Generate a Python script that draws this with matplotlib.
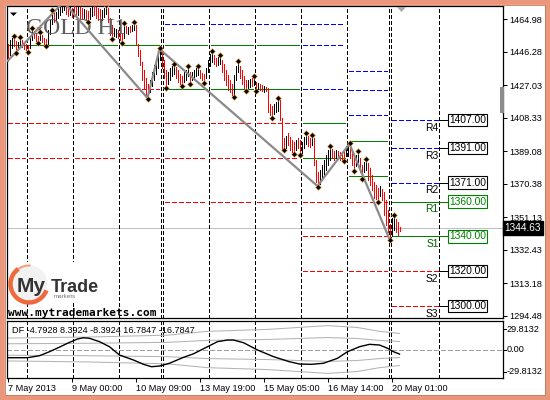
import matplotlib
matplotlib.use("Agg")
import matplotlib.pyplot as plt
from matplotlib.patches import Rectangle, Circle, Arc, Polygon
from matplotlib.transforms import blended_transform_factory as btf, offset_copy

plt.rcParams['lines.scale_dashes'] = False
plt.rcParams['font.family'] = ['Liberation Sans', 'DejaVu Sans']
plt.rcParams['axes.linewidth'] = 0.9

# ---------------- data ----------------
highs = [1450.7,1453.0,1454.2,1454.7,1452.4,1451.9,1454.2,1453.0,1451.9,1450.7,
         1450.1,1454.2,1459.3,1458.2,1457.0,1455.3,1457.0,1455.9,1454.2,1453.6,
         1458.8,1464.5,1469.7,1468.5,1469.1,1471.4,1472.6,1473.7,1474.9,1473.2,
         1472.0,1472.6,1471.4,1472.6,1472.0,1472.6,1472.0,1471.4,1470.9,1470.3,
         1469.7,1471.4,1472.0,1472.6,1472.0,1471.4,1470.9,1470.3,1471.4,1472.6,
         1471.4,1465.7,1461.6,1459.9,1459.3,1458.8,1457.0,1456.5,1462.2,1461.1,
         1460.5,1461.1,1461.6,1462.8,1461.6,1450.7,1447.3,1440.4,1435.8,1431.2,
         1427.7,1430.0,1434.6,1438.6,1441.5,1444.4,1447.8,1447.3,1441.5,1435.8,
         1434.6,1436.9,1438.1,1438.6,1437.5,1435.8,1433.5,1432.3,1434.6,1435.8,
         1437.5,1434.6,1434.6,1435.8,1436.9,1437.5,1435.8,1434.0,1433.5,1436.9,
         1441.5,1445.0,1446.1,1444.4,1442.7,1443.2,1443.8,1441.5,1439.2,1435.8,
         1432.9,1430.0,1427.7,1432.9,1438.1,1440.4,1438.1,1435.8,1432.3,1430.0,
         1430.0,1430.6,1431.2,1431.7,1428.9,1428.3,1427.7,1427.1,1426.6,1426.0,
         1425.4,1416.2,1415.0,1416.2,1417.3,1419.1,1418.5,1408.1,1396.6,1397.8,
         1399.5,1397.2,1395.5,1394.3,1395.5,1396.6,1395.5,1394.3,1397.2,1398.9,
         1397.8,1396.6,1397.8,1396.6,1384.0,1377.1,1378.2,1381.1,1384.0,1386.8,
         1389.7,1391.4,1390.3,1389.1,1389.7,1389.1,1388.6,1388.0,1388.6,1392.0,
         1392.6,1393.2,1389.7,1385.1,1386.8,1388.6,1385.1,1381.1,1382.8,1384.0,
         1382.2,1379.4,1375.3,1371.3,1369.6,1367.9,1369.0,1367.3,1365.6,1361.0,
         1355.2,1347.1,1350.6,1351.7,1350.0,1348.3,1345.4]
lows = [1440.9,1444.4,1448.4,1449.6,1446.1,1447.8,1449.6,1449.0,1447.8,1447.3,
        1446.7,1448.4,1453.0,1454.2,1452.4,1451.9,1453.0,1451.9,1450.7,1450.1,
        1450.7,1456.5,1462.2,1463.4,1464.5,1465.7,1467.4,1469.1,1470.3,1468.0,
        1466.8,1467.4,1466.3,1466.8,1466.3,1467.4,1465.7,1465.1,1465.7,1464.5,
        1464.0,1465.1,1466.8,1467.4,1465.7,1464.5,1463.4,1464.5,1466.3,1468.0,
        1463.4,1455.9,1454.2,1455.3,1454.7,1454.2,1453.0,1451.9,1454.2,1457.0,
        1456.5,1457.6,1458.2,1458.8,1450.1,1443.8,1438.6,1430.0,1425.4,1421.4,
        1419.6,1423.1,1426.6,1430.0,1433.5,1436.9,1441.5,1436.9,1431.2,1426.0,
        1427.7,1430.0,1432.3,1433.5,1431.2,1428.9,1427.7,1427.1,1428.9,1430.0,
        1432.3,1428.3,1430.0,1431.2,1432.3,1432.9,1431.2,1430.0,1428.9,1431.2,
        1434.6,1438.1,1440.4,1439.2,1438.1,1438.6,1439.2,1434.6,1430.0,1427.1,
        1424.2,1423.1,1421.4,1420.8,1430.0,1434.6,1431.2,1427.7,1425.4,1424.2,
        1425.4,1426.0,1426.6,1427.1,1424.2,1424.8,1424.2,1423.7,1423.1,1423.7,
        1411.6,1409.9,1408.7,1410.4,1411.6,1412.2,1407.0,1389.7,1390.3,1390.9,
        1392.6,1389.7,1388.6,1388.0,1389.7,1390.9,1387.4,1387.4,1390.9,1393.2,
        1392.0,1391.4,1392.6,1381.1,1371.3,1369.0,1370.2,1372.5,1375.3,1378.2,
        1381.1,1384.0,1385.1,1384.0,1385.1,1384.5,1384.0,1383.4,1384.0,1386.3,
        1386.3,1385.1,1381.1,1378.2,1380.5,1382.8,1377.1,1373.6,1377.1,1378.2,
        1372.5,1369.6,1366.7,1362.1,1361.5,1360.4,1363.3,1361.0,1352.3,1346.6,
        1342.5,1338.5,1340.2,1343.7,1342.5,1340.8,1343.1]
directions = list("rkkrrkkrrr" "rkkrrrkrrr" "kkkrkkkkkr" "rkrrrkrrkr" "rkkrrrrkkk"
                  "rrrkkrrrkr" "krkkrrrrrr" "rkkkkkkrrr" "kkkkrrrrkk" "krkkkkrrrk"
                  "kkkrrkkrrr" "rrrkkkrrrr" "kkrkrkrrkr" "rrrkkkrrrk" "rrrrkrrkkk"
                  "rrkrrrkkkk" "kkrrkrrrrk" "krrrkkrrkk" "rrrrrrkrrr" "rrkkrrr")

fractal_high_bars = [3, 6, 12, 16, 22, 49, 58, 63, 76, 83, 90, 95, 102, 106, 115,
                     123, 135, 149, 152, 161, 171, 175, 179, 193]
fractal_low_bars = [4, 10, 15, 19, 40, 52, 57, 70, 79, 87, 91, 98, 113, 119, 124,
                    132, 138, 143, 146, 155, 168, 173, 177, 185, 191]
zigzag_bars = [0, 28, 70, 76, 155, 171, 191]
zigzag_kind = ['L', 'H', 'L', 'H', 'L', 'H', 'L']

price_ticks = [1464.98, 1446.28, 1427.03, 1408.33, 1389.08, 1370.38, 1351.13,
               1332.43, 1313.18, 1294.48]
last_price = 1344.63

day_separators = [9.5, 32.5, 55.5, 76.5, 77.5, 100.5, 123.5, 146.5, 169.5,
                  190.5, 191.5, 215.5]
time_tick_bars = [0, 32, 64, 96, 128, 160, 192]
time_tick_labels = ['7 May 2013', '9 May 00:00', '10 May 09:00', '13 May 19:00',
                    '15 May 05:00', '16 May 14:00', '20 May 01:00']

# historical pivot levels: price, kind, from-separator, to-separator
hist_prices = [1450, 1425, 1405, 1385,
               1462, 1450, 1425, 1405, 1385, 1360,
               1450, 1425, 1405, 1385, 1340, 1320,
               1435, 1424, 1410, 1395, 1375]
hist_kinds = ['g', 'r', 'r', 'r',
              'b', 'g', 'g', 'r', 'r', 'r',
              'b', 'b', 'g', 'g', 'r', 'r',
              'b', 'b', 'b', 'g', 'g']
hist_from = [-0.5, -0.5, -0.5, -0.5,
             76.5, 76.5, 76.5, 76.5, 76.5, 76.5,
             146.5, 146.5, 146.5, 146.5, 146.5, 146.5,
             169.5, 169.5, 169.5, 169.5, 169.5]
hist_to = [76.5, 76.5, 76.5, 76.5,
           169.5, 146.5, 146.5, 146.5, 146.5, 190.5,
           169.5, 169.5, 169.5, 169.5, 190.5, 190.5,
           190.5, 190.5, 190.5, 190.5, 190.5]

cur_names = ['R4', 'R3', 'R2', 'R1', 'S1', 'S2', 'S3']
cur_prices = [1407.00, 1391.00, 1371.00, 1360.00, 1340.00, 1320.00, 1300.00]
cur_kinds = ['b', 'b', 'b', 'g', 'g', 'r', 'r']

df_bars = [0, 10, 16, 21, 26, 30, 35, 38, 41, 46, 51, 56, 63, 68, 72, 76, 81, 88,
           93, 100, 105, 110, 113, 118, 125, 133, 141, 146, 152, 158, 165, 170,
           176, 181, 186, 190, 193, 196]
df_values = [-8.6, -8.6, -6.5, -2.3, 2.5, 6.5, 11.0, 12.3, 11.7, 8.2, 2.9, -5.8,
             -11.0, -15.5, -18.0, -17.3, -14.4, -8.2, -4.5, 2.9, 8.2, 9.9, 9.9,
             7.1, -0.5, -7.5, -12.8, -15.2, -15.5, -14.4, -9.2, -2.3, 2.9, 5.4,
             4.7, 1.3, -2.3, -4.7928]
band_bars = [0, 40, 80, 100, 130, 160, 175, 186, 196]
band_outer = [12.0, 13.0, 15.0, 19.0, 21.0, 25.0, 23.0, 19.0, 16.7847]
band_inner = [6.0, 6.5, 7.5, 9.5, 10.5, 12.5, 11.5, 9.5, 8.3924]
df_title = 'DF -4.7928 8.3924 -8.3924 16.7847 -16.7847'
ind_labels = ['29.8132', '0.00', '-29.8132']

# ---------------- styling ----------------
W, H = 550, 400
COL = {'r': '#FF0000', 'g': '#008000', 'b': '#0000FF', 'k': '#000000'}
DASH = (0, (2.9, 1.45))
VDASH = (0, (2.2, 1.45))

fig = plt.figure(figsize=(5.5, 4.0), dpi=100, facecolor='white')


def px_rect(l, t, r, b):
    return [l / W, 1 - b / H, (r - l) / W, (b - t) / H]


ax = fig.add_axes(px_rect(6.5, 6, 502.5, 318))
ind = fig.add_axes(px_rect(6.5, 321, 502.5, 378))
ov = fig.add_axes([0, 0, 1, 1], zorder=10)
ov.set_xlim(0, W)
ov.set_ylim(H, 0)
ov.axis('off')

for a in (ax, ind):
    a.set_xlim(-0.5, 247.5)
    for s in day_separators:
        a.axvline(s, color='black', lw=0.7, ls=VDASH, zorder=2, antialiased=False)

ax.set_ylim(1293.06, 1472.57)
ind.set_ylim(-29.8132, 29.8132)

# price axis
ax.set_xticks([])
ax.yaxis.tick_right()
ax.set_yticks(price_ticks)
ax.set_yticklabels(['%.2f' % v for v in price_ticks])
ax.tick_params(axis='y', length=3, width=0.72, labelsize=6.6, pad=2)

# time axis
ind.set_yticks([])
ind.set_xticks(time_tick_bars)
ind.set_xticklabels(time_tick_labels)
ind.tick_params(axis='x', length=3, width=0.72, labelsize=6.6, pad=1.2)
for lbl in ind.get_xticklabels():
    lbl.set_horizontalalignment('left')

# "GOLD H1" watermark
ax.text(26, 34, 'GOLD H1', transform=ov.transData, fontsize=17,
        family=['Liberation Serif', 'DejaVu Serif'], color='#5E5E5E',
        ha='left', va='baseline', zorder=4.5)

# current price line
ax.axhline(last_price, color='#C0C0C0', lw=0.7, zorder=1, antialiased=False)

# historical levels, broken at each day separator
seps_all = [-0.5] + day_separators
for p, k, a0, a1 in zip(hist_prices, hist_kinds, hist_from, hist_to):
    bounds = [s for s in seps_all if a0 <= s <= a1]
    for s0, s1 in zip(bounds[:-1], bounds[1:]):
        if s1 - s0 < 2:
            continue
        x0 = s0 + (0.5 if s0 < 0 else 1.0)
        x1 = s1 - 1.0
        ax.plot([x0, x1], [p, p], color=COL[k], lw=0.7,
                ls='-' if k == 'g' else DASH, zorder=3, antialiased=False)

# current pivot levels with labels
box_x = 220.3
for name, p, k in zip(cur_names, cur_prices, cur_kinds):
    ax.plot([192.2, 215.5], [p, p], color=COL[k], lw=0.7,
            ls='-' if k == 'g' else DASH, zorder=3, antialiased=False)
    edge = COL['g'] if k == 'g' else 'black'
    ax.plot([215.5, box_x], [p, p], color=edge, lw=0.7, zorder=3, antialiased=False)
    ax.text(box_x + 0.4, p, '%.2f' % p, ha='left', va='center', fontsize=7.4,
            color=edge, zorder=7,
            bbox=dict(boxstyle='square,pad=0.12', fc='white', ec=edge, lw=0.8))
    ax.annotate(name, (215.5, p), xytext=(0, -2), textcoords='offset points',
                ha='right', va='top', fontsize=7.4,
                color='#006000' if k == 'g' else 'black', zorder=7)

# bars
idx = list(range(len(highs)))
ax.vlines(idx, lows, highs, colors=[COL[d] for d in directions], lw=0.55,
          zorder=4, antialiased=False)

# zigzag
zz_y = [lows[i] if t == 'L' else highs[i] for i, t in zip(zigzag_bars, zigzag_kind)]
ax.plot(zigzag_bars, zz_y, color='#8A8A8A', lw=1.6, zorder=5,
        solid_capstyle='round')

# fractals
up = offset_copy(ax.transData, fig, x=0, y=1.0, units='dots')
dn = offset_copy(ax.transData, fig, x=0, y=-1.0, units='dots')
ax.plot(fractal_high_bars, [highs[i] for i in fractal_high_bars], 'D',
        ms=2.9, mfc='black', mec='#F2A540', mew=0.4, transform=up, zorder=6)
ax.plot(fractal_low_bars, [lows[i] for i in fractal_low_bars], 'D',
        ms=2.9, mfc='black', mec='#F2A540', mew=0.4, transform=dn, zorder=6)

# last price box
ax.text(1.0 + 2.0 / 496, last_price, '%.2f' % last_price,
        transform=btf(ax.transAxes, ax.transData), ha='left', va='center',
        color='white', fontsize=7.2, clip_on=False,
        bbox=dict(boxstyle='square,pad=0.2', fc='black', ec='black'))

# indicator
ind.axhline(0, color='#A0A0A0', lw=0.7, ls=DASH, zorder=1, antialiased=False)
ind.plot(band_bars, band_outer, color='#B4B4B4', lw=0.75, zorder=2)
ind.plot(band_bars, [-v for v in band_outer], color='#B4B4B4', lw=0.75, zorder=2)
ind.plot(band_bars, band_inner, color='#B4B4B4', lw=0.75, zorder=2)
ind.plot(band_bars, [-v for v in band_inner], color='#B4B4B4', lw=0.75, zorder=2)
ind.plot(df_bars, df_values, color='black', lw=1.0, zorder=3)
ind.text(0.0105, 0.84, df_title, transform=ind.transAxes, fontsize=6.6,
         ha='left', va='center')
for txt, ypx in zip(ind_labels, [329, 349.5, 372]):
    ov.text(506.5, ypx, txt, ha='left', va='center', fontsize=6.6)
    ov.plot([502.5, 505.5], [ypx, ypx], color='black', lw=0.72)

# decorations: frame, markers, logo
ov.add_patch(Rectangle((0, 0), W, H, fill=False, ec='#E9967A', lw=7.0))
ov.add_patch(Rectangle((4.6, 4.6), W - 9.2, H - 9.2, fill=False, ec='#C8775A', lw=0.6))
ov.add_patch(Polygon([(10, 12.5), (17, 12.5), (13.5, 16)], closed=True, fc='black'))
ov.add_patch(Polygon([(397, 7), (406, 7), (401.5, 12)], closed=True, fc='#A8A8A8'))
ov.add_patch(Rectangle((500, 87), 3.5, 26, fc='#8C8C8C', ec='none'))

ov.add_patch(Rectangle((9, 262), 93, 40, fc='white', ec='none'))
ov.add_patch(Circle((29, 284), 18.5, fc='#F2F2F2', ec='none'))
ov.add_patch(Arc((29, 284), 37, 37, theta1=20, theta2=235, lw=3.2, color='#EE6A3C'))
ov.add_patch(Arc((29, 284), 37, 37, theta1=235, theta2=275, lw=1.5, color='#F4A07E'))
ov.text(16.5, 292, 'My', fontsize=15, fontweight='bold', color='#333333',
        ha='left', va='baseline')
ov.text(51, 292, 'Trade', fontsize=13, fontweight='bold', color='#333333',
        ha='left', va='baseline')
ov.text(53.5, 298.5, 'markets', fontsize=4.5, color='#777777', ha='left',
        va='baseline')
ov.text(8, 315.5, 'www.mytrademarkets.com', family=['DejaVu Sans Mono'],
        fontweight='bold', fontsize=8, ha='left', va='baseline')

fig.savefig('out.png', dpi=100, facecolor='white')
